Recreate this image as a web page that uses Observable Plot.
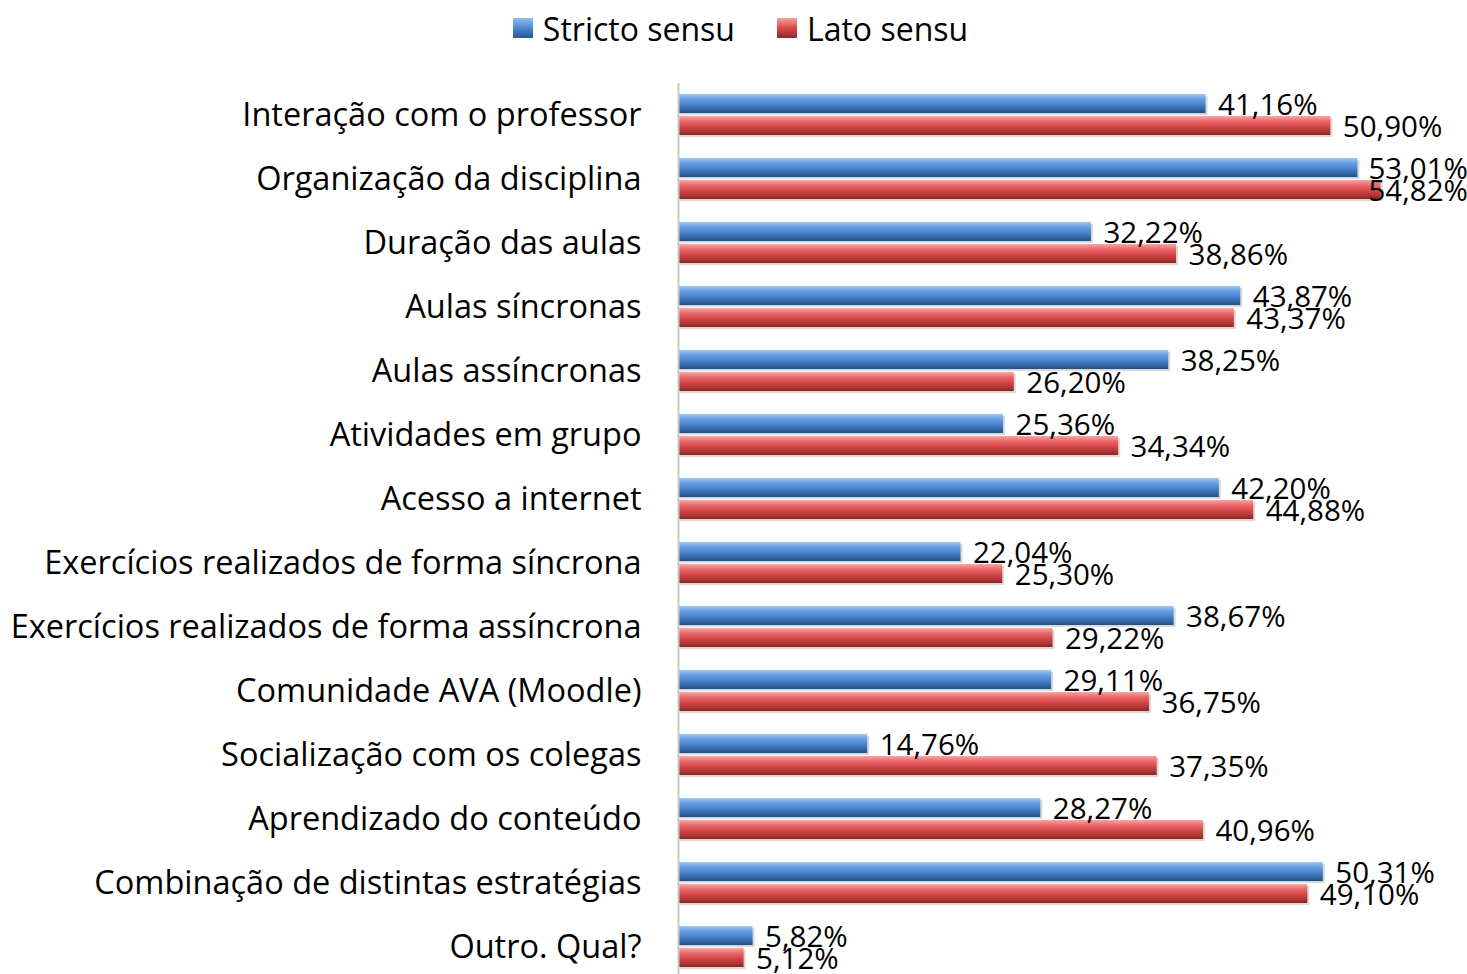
<!DOCTYPE html>
<html>
<head>
<meta charset="utf-8">
<script src="https://cdn.jsdelivr.net/npm/d3@7"></script>
<script src="https://cdn.jsdelivr.net/npm/@observablehq/plot@0.6"></script>
<style>
  html, body { margin: 0; padding: 0; background: #fff; overflow: hidden; }
  #legend { height: 56px; display: flex; align-items: center; justify-content: center; padding-left: 14px;
    font-family: 'Open Sans', sans-serif; font-size: 32px; color: #000; gap: 42px; }
  .item { display: flex; align-items: center; gap: 10px; }
  .sw { width: 20px; height: 20px; display: inline-block; }
</style>
</head>
<body>
<div id="legend"></div>
<div id="chart"></div>
<script>
const categories = [
  "Interação com o professor",
  "Organização da disciplina",
  "Duração das aulas",
  "Aulas síncronas",
  "Aulas assíncronas",
  "Atividades em grupo",
  "Acesso a internet",
  "Exercícios realizados de forma síncrona",
  "Exercícios realizados de forma assíncrona",
  "Comunidade AVA (Moodle)",
  "Socialização com os colegas",
  "Aprendizado do conteúdo",
  "Combinação de distintas estratégias",
  "Outro. Qual?"
];
const seriesNames = ["Stricto sensu", "Lato sensu"];
const stricto = [41.16, 53.01, 32.22, 43.87, 38.25, 25.36, 42.20, 22.04, 38.67, 29.11, 14.76, 28.27, 50.31, 5.82];
const lato    = [50.90, 54.82, 38.86, 43.37, 26.20, 34.34, 44.88, 25.30, 29.22, 36.75, 37.35, 40.96, 49.10, 5.12];

const data = [];
categories.forEach((c, i) => {
  data.push({cat: c, series: seriesNames[0], value: stricto[i]});
  data.push({cat: c, series: seriesNames[1], value: lato[i]});
});
const fmt = d => d.value.toFixed(2).replace(".", ",") + "%";

// legend
const legend = document.getElementById("legend");
[["Stricto sensu", "linear-gradient(#8cc0f4, #4d88d2 50%, #2a5592)"],
 ["Lato sensu", "linear-gradient(#f5a0a0, #d94a4a 50%, #8f2626)"]].forEach(([name, bg]) => {
  const it = document.createElement("span");
  it.className = "item";
  it.innerHTML = `<span class="sw" style="background:${bg}"></span><span>${name}</span>`;
  legend.appendChild(it);
});

const chart = Plot.plot({
  width: 1467,
  height: 923,
  marginTop: 27,
  marginBottom: 0,
  marginLeft: 678,
  marginRight: 20,
  x: {domain: [0, 60], axis: null},
  fy: {domain: categories, padding: 0, label: null},
  y: {domain: seriesNames, paddingInner: 0.13, paddingOuter: 0.457, axis: null},
  style: {fontFamily: "'Open Sans', sans-serif", fontSize: "32.5px", color: "#000", overflow: "visible", background: "#fff"},
  marks: [
    Plot.axisFy({anchor: "left", tickSize: 0, tickPadding: 37, label: null, fontSize: 32.5, fill: "#000"}),
    Plot.barX(data, {fy: "cat", y: "series", x: "value", fill: "#808080", fillOpacity: 0.3, dx: 2, dy: 2}),
    Plot.barX(data.filter(d => d.series === seriesNames[0]), {fy: "cat", y: "series", x: "value", fill: "url(#gBlue)"}),
    Plot.barX(data.filter(d => d.series === seriesNames[1]), {fy: "cat", y: "series", x: "value", fill: "url(#gRed)"}),
    Plot.ruleX([0], {stroke: "#c6c6c6", strokeWidth: 2}),
    Plot.text(data, {fy: "cat", y: "series", x: d => Math.min(d.value, 52.9), dx: 12, dy: 2, text: fmt,
      textAnchor: "start", lineAnchor: "middle", fontSize: 29.5, fill: "#000"})
  ]
});

d3.select(chart).insert("defs", ":first-child").html(`
  <linearGradient id="gBlue" x1="0" y1="0" x2="0" y2="1">
    <stop offset="0" stop-color="#9ccaf7"/>
    <stop offset="0.25" stop-color="#6aa2e4"/>
    <stop offset="0.55" stop-color="#4a82cc"/>
    <stop offset="0.8" stop-color="#3565a8"/>
    <stop offset="1" stop-color="#244c86"/>
  </linearGradient>
  <linearGradient id="gRed" x1="0" y1="0" x2="0" y2="1">
    <stop offset="0" stop-color="#f7a8a8"/>
    <stop offset="0.25" stop-color="#eb6c6c"/>
    <stop offset="0.55" stop-color="#d54646"/>
    <stop offset="0.8" stop-color="#b33434"/>
    <stop offset="1" stop-color="#8a2424"/>
  </linearGradient>`);

document.getElementById("chart").appendChild(chart);
</script>
</body>
</html>
